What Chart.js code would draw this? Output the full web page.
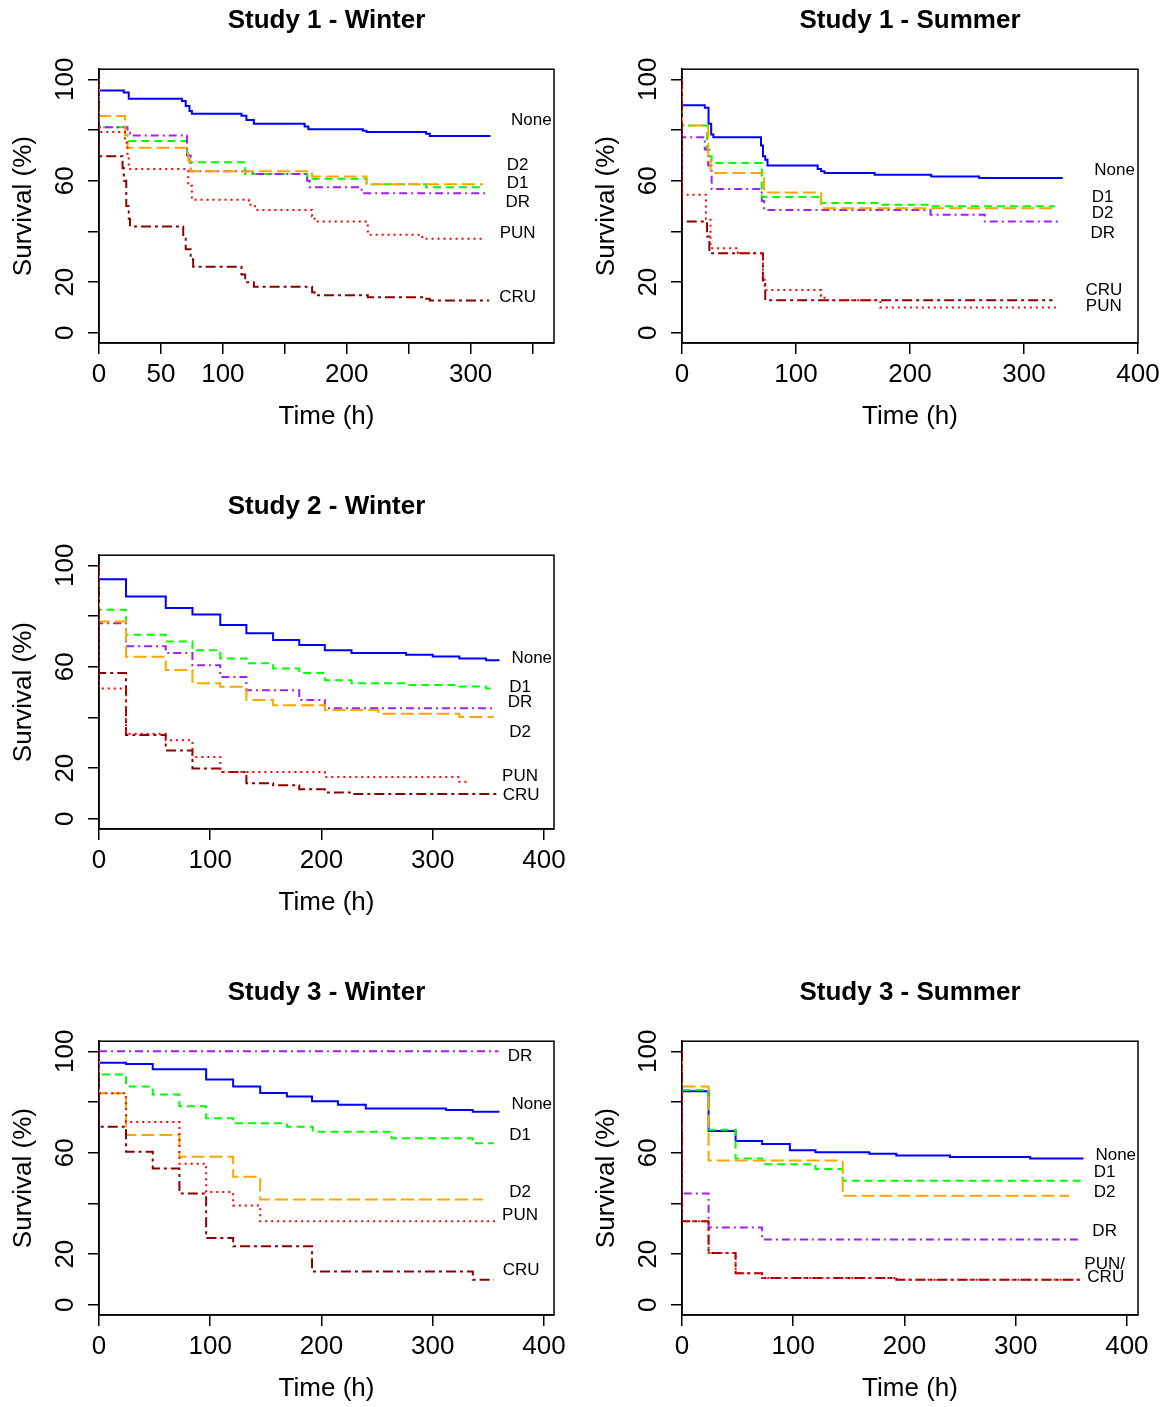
<!DOCTYPE html>
<html><head><meta charset="utf-8">
<script src="https://cdn.jsdelivr.net/npm/chart.js@4.4.0/dist/chart.umd.min.js"></script>
<style>
html,body{margin:0;padding:0;background:#fff;overflow:hidden;}
body{width:1170px;height:1407px;position:relative;}
canvas{position:absolute;}
</style>
</head><body>
<canvas id="c1" width="585" height="486" style="left:0;top:0"></canvas>
<canvas id="c2" width="587" height="486" style="left:583px;top:0"></canvas>
<canvas id="c3" width="585" height="486" style="left:0;top:486px"></canvas>
<canvas id="c4" width="585" height="486" style="left:0;top:972px"></canvas>
<canvas id="c5" width="587" height="486" style="left:583px;top:972px"></canvas>
<script>
// ---------- axis ticks ----------
const Y_TICKS = [0, 20, 40, 60, 80, 100];
const Y_TICK_LABELS = ['0', '20', '', '60', '', '100'];
const X1_TICKS = [0, 50, 100, 150, 200, 250, 300, 350];
const X1_TICK_LABELS = ['0', '50', '100', '', '200', '', '300', ''];
const X_TICKS = [0, 100, 200, 300, 400];
const X_TICK_LABELS = ['0', '100', '200', '300', '400'];
const GROUPS = ['None', 'D1', 'D2', 'DR', 'PUN', 'CRU'];

// ---------- Study 1 - Winter ----------
const S1W_None_t = [0,0,20,24,67,70,73,75,115,119,125,166,169,213,216,264,267,316];
const S1W_None_v = [100,95.6,94.8,92.3,91.5,89.5,87.5,86.4,85.6,84.0,82.5,81.4,80.3,79.7,79.2,78.5,77.7,77.7];
const S1W_D1_t = [0,0,21,23,71,73,118,168,170,216,264,309];
const S1W_D1_v = [100,81.1,78,75.7,70,67.3,62.7,61.5,60.8,58.6,57.4,57.4];
const S1W_D2_t = [0,0,21,23,72,74,172,216,310];
const S1W_D2_v = [100,85.5,78,73.0,68,63.7,61.7,58.6,58.6];
const S1W_DR_t = [0,0,23,25,71,74,124,168,170,212,312];
const S1W_DR_v = [100,81.1,79,77.8,70,63.7,62.7,60,57.4,55.1,55.1];
const S1W_PUN_t = [0,0,21,23,24,72,75,121,126,172,174,217,261,312];
const S1W_PUN_v = [100,79.2,75,70,64.6,58,52.5,50.5,48.5,46,43.9,38.7,37.1,37.1];
const S1W_CRU_t = [0,0,19,20,22,24,25,68,70,74,76,115,118,125,172,174,217,264,267,315];
const S1W_CRU_v = [100,69.7,65,60,50,45,42.0,38,33,29,26.1,23,20,18.2,16,14.8,14.0,13.5,12.8,12.8];
const S1W_LAB_text = ['None','D2','D1','DR','PUN','CRU'];
const S1W_LAB_t = [349,338,338,338,338,338];
const S1W_LAB_v = [83.8,66,58.8,51.5,39.3,14];

// ---------- Study 1 - Summer ----------
const S1S_None_t = [0,0,20,23.3,25.6,27.5,69.3,71,73,75,119,122,125,169,218.6,260.7,334];
const S1S_None_v = [100,89.8,88.8,82.5,78.2,77.2,73.9,69.7,68.3,66.0,64.6,63.7,63.1,62.4,61.7,61.1,61.1];
const S1S_D1_t = [0,0,22,24,26,70,122,173,218.6,327];
const S1S_D1_v = [100,81.8,72.3,69.7,67.0,53.6,51.2,50.5,49.9,49.9];
const S1S_D2_t = [0,0,23,25,72,122,327];
const S1S_D2_v = [100,81.8,70,63.1,55.4,49.2,49.2];
const S1S_DR_t = [0,0,20,23,26,70,72,218,265.6,330];
const S1S_DR_v = [100,77.2,72.3,66,56.7,52,48.5,46.6,43.9,43.9];
const S1S_PUN_t = [0,0,21,25,49,71,72.5,122,125,174,330];
const S1S_PUN_v = [100,54.5,45,33.4,31.4,22,16.9,14.5,12.9,10.0,10.0];
const S1S_CRU_t = [0,0,22,24,71,73,325];
const S1S_CRU_v = [100,43.9,38,31.4,20,12.9,12.9];
const S1S_LAB_text = ['None','D1','D2','DR','CRU','PUN'];
const S1S_LAB_t = [379.5,369,369,369,370,370];
const S1S_LAB_v = [64.0,53.4,47.2,39.3,16.9,10.6];

// ---------- Study 2 - Winter ----------
const S2W_None_t = [0,0,24.3,60,84,109,132.5,156.5,180,203,227,276,300,324,348,360];
const S2W_None_v = [100,94.5,87.7,83.2,80.6,76.5,73.2,70.6,68.6,66.5,65.4,64.7,64.0,63.3,62.6,62.6];
const S2W_D1_t = [0,0,24.3,60,84,109,132.5,156.5,180,203,227,276,324,348,355];
const S2W_D1_v = [100,82.5,72.6,70.0,66.5,63.3,61.4,59.3,57.5,54.7,53.5,52.8,52.2,51.4,51.4];
const S2W_D2_t = [0,0,24.3,60,84,109,132.5,156.5,203,251,324,355];
const S2W_D2_v = [100,77.8,63.9,58.7,53.5,52.1,46.9,44.8,42.9,41.5,40.2,40.2];
const S2W_DR_t = [0,0,24.3,60,84,109,132.5,180,203,355];
const S2W_DR_v = [100,77.2,68.1,65.4,60.6,56.0,50.7,46.9,43.6,43.6];
const S2W_PUN_t = [0,0,24.3,60,84,109,203,324,331];
const S2W_PUN_v = [100,51.4,33.6,31.0,24.4,18.5,16.5,14.6,14.6];
const S2W_CRU_t = [0,0,24.3,60,84,109,132.5,156.5,180,203,227,359];
const S2W_CRU_v = [100,57.5,33.1,27.0,19.9,18.5,14.0,13.3,11.7,10.4,9.8,9.8];
const S2W_LAB_text = ['None','D1','DR','D2','PUN','CRU'];
const S2W_LAB_t = [389,378.5,378.5,378.5,378.5,379.5];
const S2W_LAB_v = [63.5,52.0,45.9,34.3,16.9,9.1];

// ---------- Study 3 - Winter ----------
const S3W_None_t = [0,0,24.3,48.3,96.3,120.6,144.9,168.9,191.5,214.8,239.8,312,336,360];
const S3W_None_v = [100,95.5,95.0,92.9,88.9,86.1,83.6,82.2,80.3,78.9,77.5,76.9,76.2,76.2];
const S3W_D1_t = [0,0,24.3,48.3,72.3,96.3,120.6,168.9,192.2,263,336,355];
const S3W_D1_v = [100,90.9,86.1,83.0,78.3,73.6,71.6,70.3,68.3,65.7,63.7,63.7];
const S3W_D2_t = [0,0,24.3,72.3,120.6,144.9,345];
const S3W_D2_v = [100,83.5,67.0,58.4,50.5,41.6,41.6];
const S3W_DR_t = [0,359];
const S3W_DR_v = [100,100];
const S3W_PUN_t = [0,0,24.3,72.3,96.3,120.6,144.9,356];
const S3W_PUN_v = [100,83.5,72.1,55.7,44.5,39.2,33.0,33.0];
const S3W_CRU_t = [0,0,24.3,48.3,72.3,96.3,120.6,191.5,336,355];
const S3W_CRU_v = [100,70.3,60.4,53.8,43.9,26.4,23.1,13.2,9.9,9.9];
const S3W_LAB_text = ['DR','None','D1','D2','PUN','CRU'];
const S3W_LAB_t = [378.5,389,378.5,378.5,378.5,379.5];
const S3W_LAB_v = [98,79.3,67,44.3,35.5,13.6];

// ---------- Study 3 - Summer ----------
const S3S_None_t = [0,0,23.9,48.2,72,97,120,168.4,192.7,240.9,313,361];
const S3S_None_v = [100,84.3,68.6,64.6,63.5,61.0,60.2,59.6,58.9,58.3,57.7,57.7];
const S3S_D1_t = [0,0,23.9,48.2,72,120,144.5,361];
const S3S_D1_v = [100,84.8,69.1,57.7,55.5,53.6,49.0,49.0];
const S3S_D2_t = [0,0,23.9,144.5,348];
const S3S_D2_v = [100,86.1,56.9,43.0,43.0];
const S3S_DR_t = [0,0,23.9,72,358];
const S3S_DR_v = [100,43.9,30.5,25.8,25.8];
const S3S_PUN_t = [0,0,23.9,48.2,72,192.7,358];
const S3S_PUN_v = [100,33.0,20.5,12.5,10.6,9.9,9.9];
const S3S_CRU_t = [0,0,23.9,48.2,72,192.7,358];
const S3S_CRU_v = [100,33.0,20.5,12.5,10.6,9.9,9.9];
const S3S_LAB_text = ['None','D1','D2','DR','PUN/','CRU'];
const S3S_LAB_t = [390,380,380,380,380,381];
const S3S_LAB_v = [58.8,52.2,44.3,29.1,15.9,11.0];

// ---------- styles ----------
const FONT = "'Liberation Sans', Arial, sans-serif";
const STYLE = {
  None: {color: '#0000FF', dash: []},
  D1:   {color: '#00FF00', dash: [8, 5]},
  D2:   {color: '#FFA500', dash: [13, 5]},
  DR:   {color: '#A020F0', dash: [8, 4, 2, 4]},
  PUN:  {color: '#FF0000', dash: [2, 4]},
  CRU:  {color: '#8B0000', dash: [10, 4, 3, 4]}
};
// first entry is drawn on top
const DRAW_ORDER = ['PUN', 'CRU', 'D2', 'DR', 'D1', 'None'];

const PANELS = [
  {id: 'c1', title: 'Study 1 - Winter', xMax: 367.3, xTicks: X1_TICKS, xLabels: X1_TICK_LABELS, padRight: 31,
   series: {None:[S1W_None_t,S1W_None_v], D1:[S1W_D1_t,S1W_D1_v], D2:[S1W_D2_t,S1W_D2_v], DR:[S1W_DR_t,S1W_DR_v], PUN:[S1W_PUN_t,S1W_PUN_v], CRU:[S1W_CRU_t,S1W_CRU_v]},
   labs: [S1W_LAB_text, S1W_LAB_t, S1W_LAB_v]},
  {id: 'c2', title: 'Study 1 - Summer', xMax: 400, xTicks: X_TICKS, xLabels: X_TICK_LABELS, padRight: 32,
   series: {None:[S1S_None_t,S1S_None_v], D1:[S1S_D1_t,S1S_D1_v], D2:[S1S_D2_t,S1S_D2_v], DR:[S1S_DR_t,S1S_DR_v], PUN:[S1S_PUN_t,S1S_PUN_v], CRU:[S1S_CRU_t,S1S_CRU_v]},
   labs: [S1S_LAB_text, S1S_LAB_t, S1S_LAB_v]},
  {id: 'c3', title: 'Study 2 - Winter', xMax: 409, xTicks: X_TICKS, xLabels: X_TICK_LABELS, padRight: 31,
   series: {None:[S2W_None_t,S2W_None_v], D1:[S2W_D1_t,S2W_D1_v], D2:[S2W_D2_t,S2W_D2_v], DR:[S2W_DR_t,S2W_DR_v], PUN:[S2W_PUN_t,S2W_PUN_v], CRU:[S2W_CRU_t,S2W_CRU_v]},
   labs: [S2W_LAB_text, S2W_LAB_t, S2W_LAB_v]},
  {id: 'c4', title: 'Study 3 - Winter', xMax: 409, xTicks: X_TICKS, xLabels: X_TICK_LABELS, padRight: 31,
   series: {None:[S3W_None_t,S3W_None_v], D1:[S3W_D1_t,S3W_D1_v], D2:[S3W_D2_t,S3W_D2_v], DR:[S3W_DR_t,S3W_DR_v], PUN:[S3W_PUN_t,S3W_PUN_v], CRU:[S3W_CRU_t,S3W_CRU_v]},
   labs: [S3W_LAB_text, S3W_LAB_t, S3W_LAB_v]},
  {id: 'c5', title: 'Study 3 - Summer', xMax: 410, xTicks: X_TICKS, xLabels: X_TICK_LABELS, padRight: 32,
   series: {None:[S3S_None_t,S3S_None_v], D1:[S3S_D1_t,S3S_D1_v], D2:[S3S_D2_t,S3S_D2_v], DR:[S3S_DR_t,S3S_DR_v], PUN:[S3S_PUN_t,S3S_PUN_v], CRU:[S3S_CRU_t,S3S_CRU_v]},
   labs: [S3S_LAB_text, S3S_LAB_t, S3S_LAB_v]}
];

const boxPlugin = {
  id: 'rbox',
  beforeDatasetsDraw(chart) {
    const a = chart.chartArea, ctx = chart.ctx;
    ctx.save();
    ctx.strokeStyle = '#000';
    ctx.lineWidth = 1.5;
    ctx.strokeRect(a.left, a.top, a.right - a.left, a.bottom - a.top);
    ctx.restore();
  },
  afterDatasetsDraw(chart, args, opts) {
    const labs = opts.labs;
    if (!labs) return;
    const ctx = chart.ctx, xs = chart.scales.x, ys = chart.scales.y;
    ctx.save();
    ctx.fillStyle = '#000';
    ctx.font = '17px ' + FONT;
    ctx.textAlign = 'center';
    ctx.textBaseline = 'middle';
    labs[0].forEach((txt, i) => {
      ctx.fillText(txt, xs.getPixelForValue(labs[1][i]), ys.getPixelForValue(labs[2][i]));
    });
    ctx.restore();
  }
};

PANELS.forEach(p => {
  const datasets = DRAW_ORDER.map(g => {
    const [t, v] = p.series[g];
    return {
      label: g,
      data: t.map((x, i) => ({x: x, y: v[i]})),
      borderColor: STYLE[g].color,
      borderDash: STYLE[g].dash,
      borderWidth: 2,
      pointRadius: 0,
      fill: false,
      stepped: 'before',
      tension: 0
    };
  });
  new Chart(document.getElementById(p.id), {
    type: 'line',
    data: {datasets},
    options: {
      responsive: false,
      animation: false,
      devicePixelRatio: 1,
      layout: {padding: {left: 0, right: p.padRight, top: 0, bottom: 0}},
      plugins: {
        legend: {display: false},
        tooltip: {enabled: false},
        title: {display: true, text: p.title, fullSize: false, color: '#000',
                font: {family: FONT, size: 26, weight: 'bold'}, padding: {top: 5, bottom: 33}},
        rbox: {labs: p.labs}
      },
      scales: {
        x: {
          type: 'linear', min: 0, max: p.xMax,
          afterBuildTicks: s => { s.ticks = p.xTicks.map(v => ({value: v})); },
          afterFit: s => { s.height = 143; },
          ticks: {autoSkip: false, minRotation: 0, maxRotation: 0, padding: 5, color: '#000',
                  font: {family: FONT, size: 26},
                  callback: (val, i) => p.xLabels[i]},
          grid: {drawOnChartArea: false, drawTicks: true, tickLength: 11, color: '#000', lineWidth: 1.5},
          border: {display: true, color: '#000', width: 1.5},
          title: {display: true, text: 'Time (h)', color: '#000', font: {family: FONT, size: 26},
                  padding: {top: 0, bottom: 54}}
        },
        y: {
          type: 'linear', min: -4, max: 104,
          afterBuildTicks: s => { s.ticks = Y_TICKS.map(v => ({value: v})); },
          afterFit: s => { s.width = 99; },
          ticks: {autoSkip: false, minRotation: 90, maxRotation: 90, crossAlign: 'center', padding: 0,
                  color: '#000', font: {family: FONT, size: 26},
                  callback: (val, i) => Y_TICK_LABELS[i]},
          grid: {drawOnChartArea: false, drawTicks: true, tickLength: 11, color: '#000', lineWidth: 1.5},
          border: {display: true, color: '#000', width: 1.5},
          title: {display: true, text: 'Survival (%)', color: '#000', font: {family: FONT, size: 26},
                  padding: {top: 8, bottom: 0}}
        }
      }
    },
    plugins: [boxPlugin]
  });
});
</script>
</body></html>
